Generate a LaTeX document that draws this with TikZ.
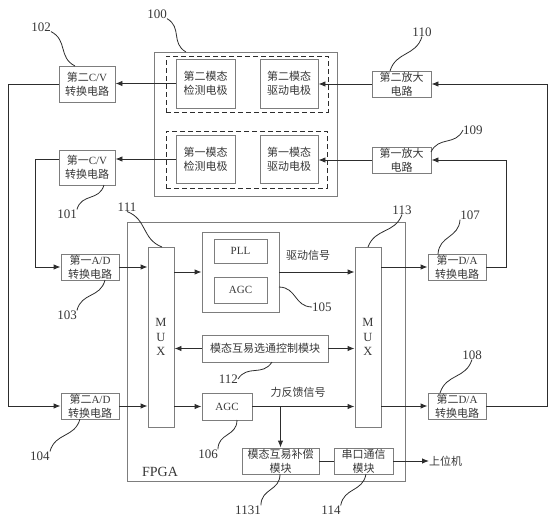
\documentclass[tikz,border=0pt]{standalone}
\usepackage{fontspec}
\setmainfont{Liberation Serif}
\newfontfamily\cjk{Noto Sans CJK SC}
\usetikzlibrary{calc,arrows.meta}
\definecolor{boxgray}{RGB}{125,125,125}
\definecolor{lnk}{RGB}{45,45,45}
\definecolor{txt}{RGB}{55,55,55}
\newcommand\wig[2]{\draw[wiggle] (#1) .. controls ($(#1)!0.4!(#2)!9pt!90:(#2)$) and ($(#1)!0.6!(#2)!9pt!90:(#1)$) .. (#2);}
\tikzset{
  box/.style={draw=boxgray, line width=0.9pt, text=txt, align=center, inner sep=0pt,
    font=\fontsize{11}{14}\selectfont},
  dashbox/.style={draw=lnk, line width=0.9pt, dash pattern=on 5pt off 3pt, inner sep=0pt},
  conn/.style={draw=lnk, line width=0.9pt},
  arr/.style={conn, -{Latex[length=7pt,width=5.5pt]}},
  wiggle/.style={draw=lnk, line width=0.8pt},
  num/.style={text=txt, inner sep=0pt, font=\fontsize{13}{14}\selectfont},
  lbl/.style={text=txt, inner sep=0pt, font=\fontsize{11}{13}\selectfont},
  muxbox/.style={box, font=\fontsize{12.5}{14.5}\selectfont},
}
\begin{document}
\begin{tikzpicture}[x=1pt,y=-1pt]
\useasboundingbox (0,0) rectangle (552,517);
% sensor block 100
\node[box, minimum width=183pt, minimum height=144pt] (b100) at (245.5,124) {};
\node[dashbox, minimum width=162pt, minimum height=56pt] (d2) at (247,84) {};
\node[dashbox, minimum width=161pt, minimum height=57pt] (d1) at (246.5,159.5) {};
\node[box, minimum width=59pt, minimum height=49pt] (det2) at (205.5,83.5) {\cjk 第二模态\\\cjk 检测电极};
\node[box, minimum width=58pt, minimum height=49pt] (drv2) at (289,83.5) {\cjk 第二模态\\\cjk 驱动电极};
\node[box, minimum width=59pt, minimum height=48pt] (det1) at (205.5,159) {\cjk 第一模态\\\cjk 检测电极};
\node[box, minimum width=58pt, minimum height=48pt] (drv1) at (289,159) {\cjk 第一模态\\\cjk 驱动电极};
% C/V
\node[box, minimum width=56pt, minimum height=36pt] (cv2) at (87,84) {{\cjk 第二}C/V\\\cjk 转换电路};
\node[box, minimum width=56pt, minimum height=35pt] (cv1) at (87,167.5) {{\cjk 第一}C/V\\\cjk 转换电路};
% amplifiers
\node[box, minimum width=59pt, minimum height=26pt] (amp2) at (401.5,84) {\cjk 第二放大\\\cjk 电路};
\node[box, minimum width=59pt, minimum height=26pt] (amp1) at (401.5,160) {\cjk 第一放大\\\cjk 电路};
% FPGA
\node[box, minimum width=278pt, minimum height=259pt] (fpga) at (266,351.5) {};
\node[num, font=\fontsize{14}{15}\selectfont] (fpgal) at (160,472) {FPGA};
\node[muxbox, minimum width=26pt, minimum height=180pt] (mux1) at (161,337) {M\\U\\X};
\node[muxbox, minimum width=26pt, minimum height=180pt] (mux2) at (368,337) {M\\U\\X};
\node[box, minimum width=77pt, minimum height=80pt] (pllb) at (240.5,272) {};
\node[box, minimum width=53pt, minimum height=24pt] (pll) at (240.5,251) {PLL};
\node[box, minimum width=53pt, minimum height=26pt] (agc1) at (240.5,290) {AGC};
\node[box, minimum width=126pt, minimum height=27pt] (ctrl) at (265,348.5) {\cjk 模态互易选通控制模块};
\node[box, minimum width=50pt, minimum height=27pt] (agc2) at (227,406.5) {AGC};
\node[box, minimum width=77pt, minimum height=26pt] (comp) at (280.5,461) {\cjk 模态互易补偿\\\cjk 模块};
\node[box, minimum width=59pt, minimum height=26pt] (ser) at (363.5,461) {\cjk 串口通信\\\cjk 模块};
\node[lbl, anchor=west] (host) at (429,461) {\cjk 上位机};
% A/D, D/A
\node[box, minimum width=58pt, minimum height=26pt] (ad1) at (90,267) {{\cjk 第一}A/D\\\cjk 转换电路};
\node[box, minimum width=58pt, minimum height=26pt] (ad2) at (90,406) {{\cjk 第二}A/D\\\cjk 转换电路};
\node[box, minimum width=58pt, minimum height=26pt] (da1) at (457,267) {{\cjk 第一}D/A\\\cjk 转换电路};
\node[box, minimum width=58pt, minimum height=26pt] (da2) at (457,406) {{\cjk 第二}D/A\\\cjk 转换电路};
% signal labels
\node[lbl] (drvsig) at (308,255) {\cjk 驱动信号};
\node[lbl] (fbsig) at (298,392) {\cjk 力反馈信号};
% connectors
\draw[arr] (det2.west) -- (det2.west -| cv2.east);
\draw[arr] (det1.west) -- (det1.west -| cv1.east);
\draw[arr] (amp2.west) -- (amp2.west -| drv2.east);
\draw[arr] (amp1.west) -- (amp1.west -| drv1.east);
\coordinate (r2) at (547,406);
\coordinate (r1) at (506,267);
\coordinate (lf2) at (8,84);
\coordinate (lf1) at (35,159);
\draw[arr] (da2.east) -- (r2) -- (r2 |- amp2.east) -- (amp2.east);
\draw[arr] (da1.east) -- (r1) -- (r1 |- amp1.east) -- (amp1.east);
\draw[arr] (cv2.west |- lf2) -- (lf2) -- (lf2 |- ad2.west) -- (ad2.west);
\draw[arr] (cv1.west |- lf1) -- (lf1) -- (lf1 |- ad1.west) -- (ad1.west);
\draw[arr] (ad1.east) -- (ad1.east -| mux1.west);
\draw[arr] (ad2.east) -- (ad2.east -| mux1.west);
\draw[arr] (mux1.east |- pllb.west) -- (pllb.west);
\draw[arr] (pllb.east) -- (pllb.east -| mux2.west);
\draw[arr] (ctrl.west) -- (ctrl.west -| mux1.east);
\draw[arr] (ctrl.east) -- (ctrl.east -| mux2.west);
\draw[arr] (mux1.east |- agc2.west) -- (agc2.west);
\draw[arr] (agc2.east) -- (agc2.east -| mux2.west);
\draw[arr] (comp.north |- agc2.east) -- (comp.north);
\draw[conn] (comp.east) -- (ser.west);
\draw[arr] (ser.east) -- (host.west);
\draw[arr] (mux2.east |- da1.west) -- (da1.west);
\draw[arr] (mux2.east |- da2.west) -- (da2.west);
% reference numerals
\node[num] (l100) at (157,14) {100};
\node[num] (l102) at (41,27) {102};
\node[num] (l101) at (67,214) {101};
\node[num] (l110) at (422,32) {110};
\node[num, anchor=west] (l109) at (463,130) {109};
\node[num] (l111) at (127,207) {111};
\node[num] (l113) at (402,210) {113};
\node[num] (l107) at (470,215) {107};
\node[num] (l108) at (472,355) {108};
\node[num] (l103) at (67,315) {103};
\node[num] (l104) at (40,456) {104};
\node[num, anchor=west] (l105) at (312,307) {105};
\node[num] (l106) at (208,454) {106};
\node[num, anchor=east] (l112) at (238,379) {112};
\node[num] (l1131) at (248,510) {1131};
\node[num] (l114) at (331,510) {114};
\coordinate (s100) at (186,52);
\coordinate (s102) at (75,66);
\coordinate (s101) at (104,185);
\coordinate (s110) at (390,71);
\coordinate (s109) at (431,152);
\coordinate (s111) at (162,247);
\coordinate (s113) at (368,247);
\coordinate (s107) at (438,254);
\coordinate (s108) at (440,393);
\coordinate (s103) at (105,280);
\coordinate (s104) at (80,419);
\coordinate (s105) at (279,287);
\coordinate (s106) at (237,420);
\coordinate (s112) at (272,362);
\coordinate (s1131) at (280,474);
\coordinate (s114) at (366,474);
\wig{s100}{l100.south east}
\wig{s102}{l102.south east}
\wig{s101}{l101.north east}
\wig{s110}{l110.south}
\wig{s109}{l109.west}
\wig{s111}{l111.south}
\wig{s113}{l113.south}
\wig{s107}{l107.south west}
\wig{s108}{l108.south}
\wig{s103}{l103.north east}
\wig{s104}{l104.north east}
\wig{s105}{l105.west}
\wig{s106}{l106.north east}
\wig{s112}{l112.east}
\wig{s1131}{l1131.north east}
\wig{s114}{l114.north east}
\end{tikzpicture}
\end{document}
